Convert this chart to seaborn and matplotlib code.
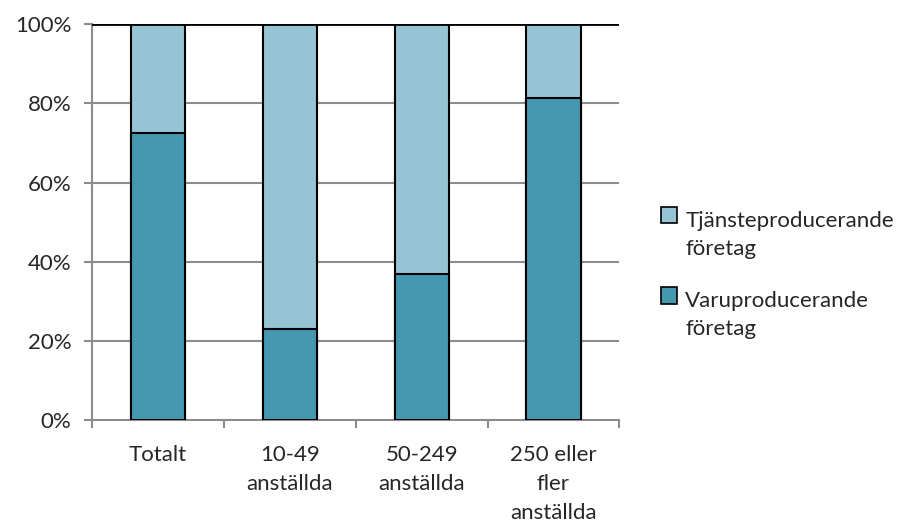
import matplotlib
matplotlib.use("Agg")
import matplotlib.pyplot as plt
import numpy as np
import pandas as pd
import seaborn as sns
from matplotlib.patches import Patch

categories = ["Totalt", "10-49\nanställda", "50-249\nanställda", "250 eller\nfler\nanställda"]
varu = [72.4, 23.0, 37.0, 81.4]
tjanst = [100 - v for v in varu]
series_labels = ["Tjänsteproducerande\nföretag", "Varuproducerande\nföretag"]

dark = "#4499B0"
light = "#96C4D5"

sns.set_theme(style="white")
plt.rcParams["font.family"] = ["Lato", "DejaVu Sans"]

df = pd.DataFrame({"kat": categories, "varu": varu, "tjanst": tjanst})
df["total"] = df["varu"] + df["tjanst"]

fig = plt.figure(figsize=(9.14, 5.27), dpi=100)
ax = fig.add_axes([0.1007, 0.203, 0.577, 0.751])

for y in [20, 40, 60, 80]:
    ax.axhline(y, color="#8c8c8c", lw=1.5, zorder=0)

sns.barplot(data=df, x="kat", y="total", color=light, width=0.41,
            edgecolor="black", linewidth=1.5, saturation=1, ax=ax, zorder=2)
sns.barplot(data=df, x="kat", y="varu", color=dark, width=0.41,
            edgecolor="black", linewidth=1.5, saturation=1, ax=ax, zorder=3)

ax.axhline(100, color="black", lw=2, zorder=4)
ax.set_xlim(-0.5, len(categories) - 0.5)
ax.set_ylim(0, 100)
ax.set_yticks(np.arange(0, 101, 20))
ax.set_yticklabels([f"{v}%" for v in range(0, 101, 20)], fontsize=16)
ax.set_xlabel("")
ax.set_ylabel("")
ax.tick_params(axis="x", length=0, labelsize=16, pad=18)
ax.tick_params(axis="y", left=True, length=6, color="#8c8c8c", width=1.5, pad=9)
ax.set_xticks(np.arange(-0.5, len(categories)), minor=True)
ax.tick_params(axis="x", which="minor", bottom=True, length=6, color="#8c8c8c", width=1.5)
for lab in ax.get_xticklabels():
    lab.set_linespacing(1.55)
    lab.set_verticalalignment("top")

for s in ["top", "right"]:
    ax.spines[s].set_visible(False)
for s in ["left", "bottom"]:
    ax.spines[s].set_color("#8c8c8c")
    ax.spines[s].set_linewidth(1.5)

handles = [Patch(facecolor=light, edgecolor="black", linewidth=1.2),
           Patch(facecolor=dark, edgecolor="black", linewidth=1.2)]
leg = fig.legend(handles, series_labels, loc="center left", bbox_to_anchor=(0.723, 0.516),
                 frameon=False, fontsize=16, handlelength=0.75, handleheight=0.75,
                 handletextpad=0.35, labelspacing=1.45, borderaxespad=0, borderpad=0)
for t in leg.get_texts():
    t.set_linespacing(1.5)
    t.set_verticalalignment("center")

fig.savefig("out.png", dpi=100)
